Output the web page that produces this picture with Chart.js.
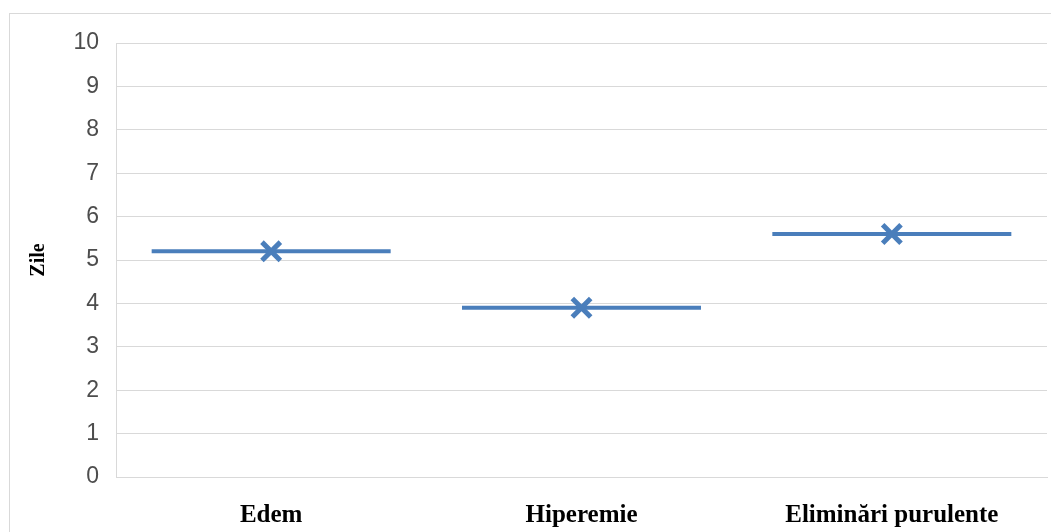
<!DOCTYPE html>
<html>
<head>
<meta charset="utf-8">
<script src="https://cdn.jsdelivr.net/npm/chart.js@4/dist/chart.umd.min.js"></script>
<style>
  html, body { margin: 0; padding: 0; background: #ffffff; }
  #wrap { width: 1051px; height: 532px; position: relative; }
</style>
</head>
<body>
<div id="wrap"><canvas id="c" width="1051" height="532"></canvas></div>
<script>
const categories = ["Edem", "Hiperemie", "Elimin\u0103ri purulente"];
const meanDays = [5.2, 3.9, 5.6];
const yTitle = "Zile";
const yMin = 0, yMax = 10, yStep = 1;

const BLUE = "#4a7ebb";
const GRID = "#d9d9d9";

const frame = {
  id: "frame",
  beforeDraw(chart) {
    const ctx = chart.ctx;
    ctx.save();
    ctx.fillStyle = "#ffffff";
    ctx.fillRect(0, 0, chart.width, chart.height);
    ctx.strokeStyle = GRID;
    ctx.lineWidth = 1;
    ctx.strokeRect(9.5, 13.5, 1200, 700);
    ctx.restore();
  }
};

new Chart(document.getElementById("c"), {
  type: "line",
  data: {
    labels: categories,
    datasets: [
      {
        label: "dash",
        data: meanDays,
        showLine: false,
        pointStyle: "line",
        pointRadius: 119.5,
        pointBorderWidth: 4,
        pointBorderColor: BLUE,
        pointBackgroundColor: BLUE,
        order: 2
      },
      {
        label: "marker",
        data: meanDays,
        showLine: false,
        pointStyle: "crossRot",
        pointRadius: 13,
        pointBorderWidth: 5,
        pointBorderColor: BLUE,
        pointBackgroundColor: BLUE,
        order: 1
      }
    ]
  },
  options: {
    responsive: false,
    animation: false,
    events: [],
    layout: { autoPadding: false, padding: { left: 0, top: 43, right: 4, bottom: 0 } },
    plugins: {
      legend: { display: false },
      tooltip: { enabled: false },
      title: { display: false }
    },
    scales: {
      x: {
        offset: true,
        grid: { display: false, drawTicks: false },
        border: { display: true, color: GRID, width: 1 },
        ticks: {
          color: "#000000",
          padding: 24,
          font: { family: "'Liberation Serif', 'DejaVu Serif', serif", size: 25, weight: "bold" }
        },
        afterFit(s) { s.height = 55; }
      },
      y: {
        min: yMin,
        max: yMax,
        grid: { color: GRID, lineWidth: 1, drawTicks: false },
        border: { display: true, color: GRID, width: 1 },
        ticks: {
          stepSize: yStep,
          autoSkip: false,
          color: "#4d4d4d",
          padding: 17,
          font: { family: "'Liberation Sans', Arial, sans-serif", size: 23 }
        },
        title: {
          display: true,
          text: yTitle,
          color: "#000000",
          padding: { top: 27, bottom: 0 },
          font: { family: "'Liberation Serif', 'DejaVu Serif', serif", size: 20, weight: "bold" }
        },
        afterFit(s) { s.width = 116; }
      }
    }
  },
  plugins: [frame]
});
</script>
</body>
</html>
